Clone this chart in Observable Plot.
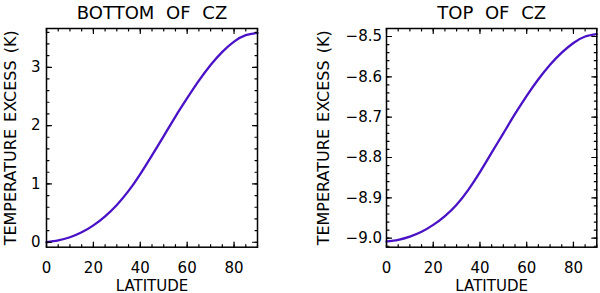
<!DOCTYPE html>
<html><head><meta charset="utf-8">
<script src="https://cdn.jsdelivr.net/npm/d3@7"></script>
<script src="https://cdn.jsdelivr.net/npm/@observablehq/plot@0.6"></script>
<style>
body{margin:0;background:#fff}
#wrap{display:flex;width:600px;height:293px}
g[font-size="18"] text{word-spacing:6px}
g[font-size="16"] text{word-spacing:2px}
</style>
</head><body><div id="wrap"></div>
<script>
// Data
const latitude = [0,5,10,15,20,25,30,35,40,45,50,55,60,65,70,75,80,85,90];
const bottomCZ = [0.0,0.03,0.085,0.17,0.29,0.445,0.64,0.88,1.17,1.49,1.82,2.155,2.47,2.77,3.04,3.265,3.44,3.55,3.59];
const topCZ = [-9.008,-9.004,-8.996,-8.984,-8.967,-8.945,-8.917,-8.880,-8.836,-8.788,-8.740,-8.692,-8.647,-8.606,-8.570,-8.540,-8.516,-8.500,-8.494];
const titles = ["BOTTOM OF CZ", "TOP OF CZ"];
const xLabel = "LATITUDE";
const yLabel = "TEMPERATURE EXCESS (K)";
const xMajorTicks = [0,20,40,60,80];
const bottomYMajorTicks = [0,1,2,3];
const topYMajorTicks = [-9.0,-8.9,-8.8,-8.7,-8.6,-8.5];

const lineColor = "#4a12c6";
const tickShape = {draw(ctx, l){ ctx.moveTo(0,0); ctx.lineTo(0,-l); }};

function minorTicks(domain, step){
  const lo = Math.ceil(domain[0]/step - 1e-9), hi = Math.floor(domain[1]/step + 1e-9);
  return d3.range(lo, hi+1).map(k => +(k*step).toFixed(6));
}

function panel(o){
  const rows = latitude.map((lat,i)=>({lat, v:o.values[i]}));
  const xMinor = minorTicks([0,90], 5);
  const yMinor = minorTicks(o.yDomain, o.yMinorStep);
  const tk = (data, ch, anchor, rotate, len) => Plot.vector(data, {
    [ch]: d=>d, frameAnchor: anchor, rotate, length: len, anchor: "start",
    shape: tickShape, stroke: "black", strokeWidth: 1.2
  });
  return Plot.plot({
    width: 300, height: 293,
    marginLeft: o.marginLeft, marginRight: o.marginRight, marginTop: 28, marginBottom: 46.3,
    style: {fontFamily: "DejaVu Sans", background: "white", overflow: "visible"},
    x: {domain: [0,90]},
    y: {domain: o.yDomain},
    marks: [
      Plot.line(rows, {x:"lat", y:"v", stroke: lineColor, strokeWidth: 2.3, curve: "natural"}),
      Plot.frame({stroke:"black", strokeWidth: 1.5}),
      tk(xMinor, "x", "bottom", 0, 2.5),
      tk(xMinor, "x", "top", 180, 2.5),
      tk(xMajorTicks, "x", "bottom", 0, 5),
      tk(xMajorTicks, "x", "top", 180, 5),
      tk(yMinor, "y", "left", 90, 2.5),
      tk(yMinor, "y", "right", -90, 2.5),
      tk(o.yMajor, "y", "left", 90, 5),
      tk(o.yMajor, "y", "right", -90, 5),
      Plot.axisX(xMajorTicks, {tickSize: 0, tickPadding: 15, label: null, fontSize: 15, tickFormat: "d"}),
      Plot.axisY(o.yMajor, {tickSize: 0, tickPadding: o.yTickPad, label: null, fontSize: 15, tickFormat: o.yFormat}),
      Plot.text([o.title], {frameAnchor: "top", dy: -15.5, lineAnchor: "middle", textAnchor: "middle", fontSize: 18, text: d=>d}),
      Plot.text([xLabel], {frameAnchor: "bottom", dy: 38.5, lineAnchor: "middle", textAnchor: "middle", fontSize: 15, text: d=>d}),
      Plot.text([yLabel], {frameAnchor: "left", rotate: -90, dx: o.yLabelDx, lineAnchor: "middle", textAnchor: "middle", fontSize: 16, text: d=>d})
    ]
  });
}

const wrap = document.getElementById("wrap");
wrap.append(panel({
  title: titles[0], values: bottomCZ, yDomain: [-0.085, 3.665], yMajor: bottomYMajorTicks,
  yMinorStep: 0.2, yFormat: d3.format("d"), marginLeft: 46, marginRight: 43, yTickPad: 6, yLabelDx: -36
}));
wrap.append(panel({
  title: titles[1], values: topCZ, yDomain: [-9.0223, -8.4802], yMajor: topYMajorTicks,
  yMinorStep: 0.02, yFormat: d3.format(".1f"), marginLeft: 86, marginRight: 3.7, yTickPad: 4.5, yLabelDx: -62.5
}));
</script>
</body></html>
